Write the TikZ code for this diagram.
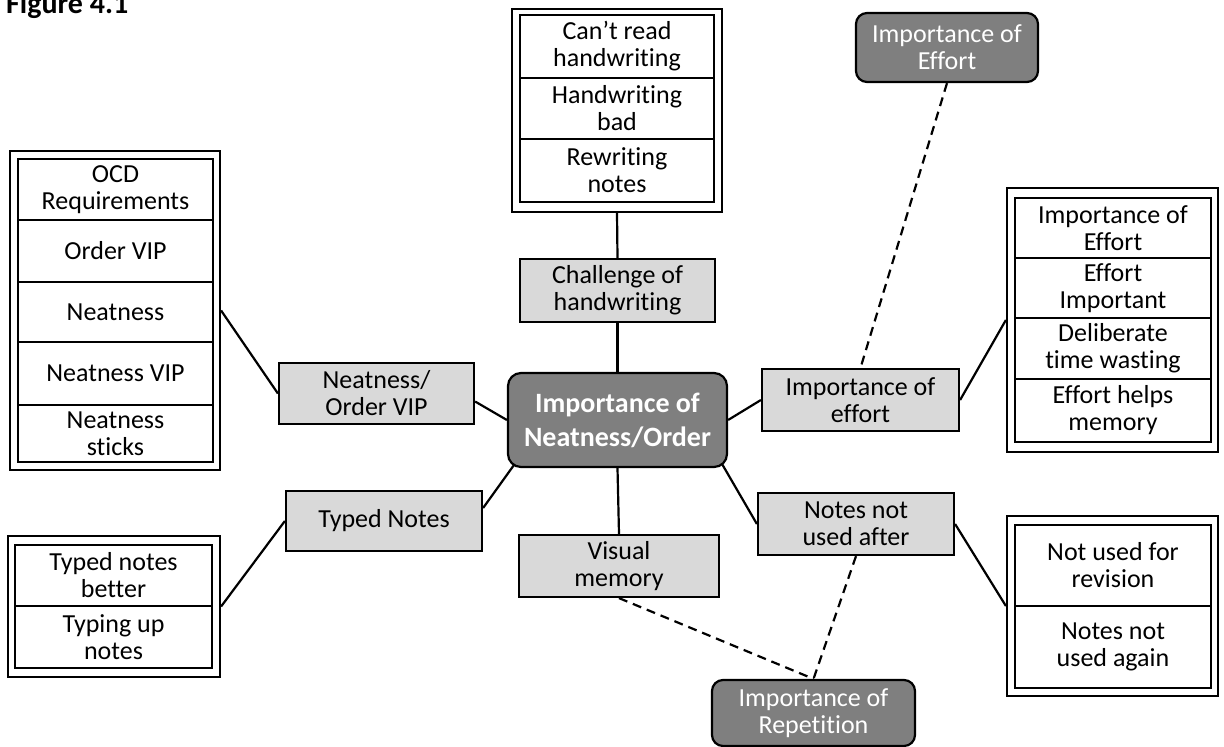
\documentclass[tikz,border=0pt]{standalone}
\usepackage{fontspec}
\setmainfont{Carlito}[Ligatures={NoCommon}]
\usetikzlibrary{calc}
\definecolor{hubgrey}{HTML}{7F7F7F}
\definecolor{leafgrey}{HTML}{D9D9D9}
\pgfdeclarelayer{background}
\pgfdeclarelayer{paper}
\pgfsetlayers{paper,background,main}
\begin{document}
\begin{tikzpicture}[x=1pt,y=-1pt,
  base/.style={font=\fontsize{26}{27}\selectfont, align=center, inner sep=0pt, line width=2.2pt},
  hub/.style={base, draw, fill=hubgrey, text=white, rounded corners=13pt, font=\bfseries\fontsize{28}{34}\selectfont},
  theme/.style={base, draw, fill=hubgrey, text=white, rounded corners=11pt},
  topic/.style={base, draw, fill=leafgrey},
  frame/.style={draw, fill=white, line width=2.2pt, inner sep=0pt},
  cell/.style={base, draw},
  link/.style={line width=2.2pt},
  dashlink/.style={line width=2.2pt, dash pattern=on 9pt off 6pt},
]
\begin{pgfonlayer}{paper}
\fill[white] (0,0) rectangle (1224,747);
\end{pgfonlayer}
\useasboundingbox (0,0) rectangle (1224,747);

% caption
\node[anchor=base west, inner sep=0pt, font=\bfseries\fontsize{30}{36}\selectfont] (caption) at (6,13) {Figure 4.1};

% central theme
\node[hub, minimum width=219pt, minimum height=94pt] (central) at (617.5,420) {Importance of\\Neatness/Order};

% related themes
\node[theme, minimum width=182pt, minimum height=69pt] (efforttheme) at (947,47.5) {Importance of\\Effort};
\node[theme, minimum width=203pt, minimum height=66pt] (repetition) at (813.5,713) {Importance of\\Repetition};

% sub-themes
\node[topic, minimum width=195pt, minimum height=63pt] (challenge) at (617.5,290.5) {Challenge of\\handwriting};
\node[topic, minimum width=195pt, minimum height=61pt] (vip) at (376.5,393.5) {Neatness/\\Order VIP};
\node[topic, minimum width=196pt, minimum height=60pt] (typed) at (384,521) {Typed Notes};
\node[topic, minimum width=197pt, minimum height=62pt] (effort) at (860.5,400) {Importance of\\effort};
\node[topic, minimum width=196pt, minimum height=62pt] (notesafter) at (856,524) {Notes not\\used after};
\node[topic, minimum width=200pt, minimum height=62pt] (visual) at (619,566) {Visual\\memory};

% code list: handwriting
\node[frame, minimum width=210pt, minimum height=203pt] (hwlist) at (617,110.5) {};
\node[cell, minimum width=194pt, minimum height=63pt] (hw1) at (617,46.5) {Can’t read\\handwriting};
\node[cell, minimum width=194pt, minimum height=61pt] (hw2) at (617,108.5) {Handwriting\\bad};
\node[cell, minimum width=194pt, minimum height=63pt] (hw3) at (617,170.5) {Rewriting\\notes};

% code list: neatness / order
\node[frame, minimum width=210pt, minimum height=319pt] (ocdlist) at (115,310.5) {};
\node[cell, minimum width=195pt, minimum height=61pt] (ocd1) at (115.5,189.5) {OCD\\Requirements};
\node[cell, minimum width=195pt, minimum height=62pt] (ocd2) at (115.5,251) {Order VIP};
\node[cell, minimum width=195pt, minimum height=60pt] (ocd3) at (115.5,312) {Neatness};
\node[cell, minimum width=195pt, minimum height=63pt] (ocd4) at (115.5,373.5) {Neatness VIP};
\node[cell, minimum width=195pt, minimum height=57pt] (ocd5) at (115.5,433.5) {Neatness\\sticks};

% code list: effort
\node[frame, minimum width=211pt, minimum height=264pt] (effortlist) at (1112.5,320) {};
\node[cell, minimum width=196pt, minimum height=60pt] (ef1) at (1113,228) {Importance of\\Effort};
\node[cell, minimum width=196pt, minimum height=60pt] (ef2) at (1113,288) {Effort\\Important};
\node[cell, minimum width=196pt, minimum height=61pt] (ef3) at (1113,348.5) {Deliberate\\time wasting};
\node[cell, minimum width=196pt, minimum height=63pt] (ef4) at (1113,410.5) {Effort helps\\memory};

% code list: typed notes
\node[frame, minimum width=212pt, minimum height=141pt] (typedlist) at (114,606.5) {};
\node[cell, minimum width=197pt, minimum height=61pt] (ty1) at (113.5,575.5) {Typed notes\\better};
\node[cell, minimum width=197pt, minimum height=62pt] (ty2) at (113.5,637) {Typing up\\notes};

% code list: notes not used
\node[frame, minimum width=211pt, minimum height=180pt] (unusedlist) at (1112.5,606) {};
\node[cell, minimum width=196pt, minimum height=81pt] (un1) at (1113,565.5) {Not used for\\revision};
\node[cell, minimum width=196pt, minimum height=82pt] (un2) at (1113,647) {Notes not\\used again};

% connectors, kept behind the boxes
\begin{pgfonlayer}{background}
\draw[link] (hwlist.south) -- (challenge.north);
\draw[link] (challenge.south) -- (central.north);
\draw[link] (ocdlist.east) -- (vip.west);
\draw[link] ($(vip.east)+(0,8)$) -- (central.west);
\draw[link] (typedlist.east) -- (typed.west);
\draw[link] ($(typed.east)+(0,-13)$) -- ($(central.south west)+(7,-3)$);
\draw[link] (central.east) -- (effort.west);
\draw[link] (effort.east) -- (effortlist.west);
\draw[link] ($(central.south east)+(-6,-4)$) -- (notesafter.west);
\draw[link] (notesafter.east) -- (unusedlist.west);
\draw[link] (central.south) -- (visual.north);
\draw[dashlink] (efforttheme.south) -- (effort.north);
\draw[dashlink] (notesafter.south) -- (repetition.north);
\draw[dashlink] (visual.south) -- (repetition.north);
\end{pgfonlayer}
\end{tikzpicture}
\end{document}
